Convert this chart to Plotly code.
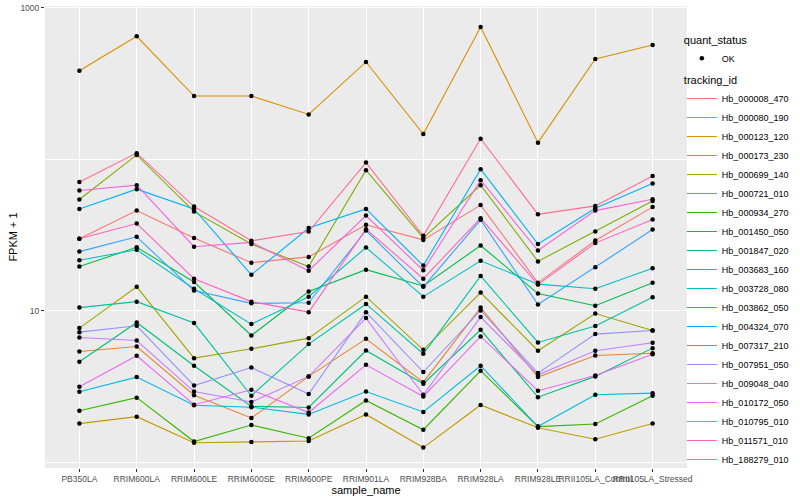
import plotly.graph_objects as go

samples = ["PB350LA", "RRIM600LA", "RRIM600LE", "RRIM600SE", "RRIM600PE", "RRIM901LA",
           "RRIM928BA", "RRIM928LA", "RRIM928LE", "RRII105LA_Control", "RRII105LA_Stressed"]

tracking_ids = ["Hb_000008_470", "Hb_000080_190", "Hb_000123_120", "Hb_000173_230",
                "Hb_000699_140", "Hb_000721_010", "Hb_000934_270", "Hb_001450_050",
                "Hb_001847_020", "Hb_003683_160", "Hb_003728_080", "Hb_003862_050",
                "Hb_004324_070", "Hb_007317_210", "Hb_007951_050", "Hb_009048_040",
                "Hb_010172_050", "Hb_010795_010", "Hb_011571_010", "Hb_188279_010"]

# FPKM + 1 values, one list per tracking_id (same order as samples)
Hb_000008_470 = [29.9, 45.9, 30.3, 20.8, 22.7, 37.0, 29.4, 49.9, 15.3, 29.1, 48.4]
Hb_000080_190 = [5.39, 5.81, 2.77, 1.96, 3.69, 6.53, 3.38, 10.5, 3.65, 5.07, 5.24]
Hb_000123_120 = [385, 650, 262, 262, 198, 440, 147, 750, 129, 460, 570]
Hb_000173_230 = [1.80, 2.00, 1.345, 1.36, 1.38, 2.07, 1.25, 2.39, 1.69, 1.42, 1.80]
Hb_000699_140 = [7.69, 14.4, 4.87, 5.61, 6.60, 12.4, 5.53, 13.2, 5.45, 9.60, 7.41]
Hb_000721_010 = [54.3, 107, 45.2, 27.6, 19.6, 84.9, 30.3, 67.6, 21.2, 33.4, 53.2]
Hb_000934_270 = [2.19, 2.67, 1.37, 1.76, 1.44, 2.56, 1.64, 4.02, 1.72, 1.79, 2.75]
Hb_001450_050 = [19.6, 26.3, 15.5, 6.87, 13.4, 18.7, 14.6, 27.0, 13.0, 10.8, 15.3]
Hb_001847_020 = [4.61, 8.37, 4.34, 2.34, 2.30, 5.47, 3.30, 7.49, 2.69, 3.69, 5.67]
Hb_003683_160 = [10.5, 11.5, 8.30, 2.75, 6.03, 11.1, 5.20, 17.0, 6.18, 7.93, 12.3]
Hb_003728_080 = [21.6, 25.3, 14.0, 8.17, 12.4, 26.2, 12.4, 21.4, 15.0, 14.0, 19.1]
Hb_003862_050 = [2.92, 3.65, 2.38, 2.31, 2.07, 2.93, 2.15, 4.34, 1.72, 2.79, 2.86]
Hb_004324_070 = [47.1, 63.6, 47.1, 17.3, 35.2, 47.1, 19.9, 86.2, 27.6, 47.6, 69.2]
Hb_007317_210 = [24.6, 30.8, 13.6, 11.2, 11.3, 33.9, 14.4, 39.9, 11.0, 19.4, 34.4]
Hb_007951_050 = [7.23, 7.96, 3.21, 4.22, 2.82, 9.80, 3.94, 10.05, 3.88, 7.02, 7.41]
Hb_009048_040 = [6.67, 6.37, 2.93, 2.50, 3.69, 8.95, 2.79, 9.09, 3.78, 5.45, 6.15]
Hb_010172_050 = [3.15, 5.05, 2.40, 3.01, 2.13, 4.40, 2.72, 6.77, 2.97, 3.74, 5.16]
Hb_010795_010 = [62.3, 67.6, 26.5, 28.3, 18.4, 42.6, 18.5, 72.9, 25.0, 45.9, 54.6]
Hb_011571_010 = [29.9, 37.7, 16.3, 11.5, 9.80, 34.6, 16.3, 40.9, 14.9, 28.0, 40.1]
Hb_188279_010 = [71.0, 110, 48.8, 29.0, 33.4, 95.3, 31.3, 137, 43.4, 49.3, 77.8]

series_values = [Hb_000008_470, Hb_000080_190, Hb_000123_120, Hb_000173_230,
                 Hb_000699_140, Hb_000721_010, Hb_000934_270, Hb_001450_050,
                 Hb_001847_020, Hb_003683_160, Hb_003728_080, Hb_003862_050,
                 Hb_004324_070, Hb_007317_210, Hb_007951_050, Hb_009048_040,
                 Hb_010172_050, Hb_010795_010, Hb_011571_010, Hb_188279_010]

colors = ["#F8766D", "#EA8331", "#D89000", "#C09B00", "#A3A500", "#7CAE00", "#39B600",
          "#00BB4E", "#00BF7D", "#00C1A3", "#00BFC4", "#00BAE0", "#00B0F6", "#35A2FF",
          "#9590FF", "#C77CFF", "#E76BF3", "#FA62DB", "#FF62BC", "#FF6C91"]

FONT = "Liberation Sans, Arial, sans-serif"

fig = go.Figure()
for name, vals, col in zip(tracking_ids, series_values, colors):
    fig.add_trace(go.Scatter(
        x=samples, y=vals, mode="lines", name=name,
        line=dict(color=col, width=1.1),
        legend="legend", hoverinfo="x+y+name"))

all_x, all_y = [], []
for vals in series_values:
    all_x += samples
    all_y += vals
fig.add_trace(go.Scatter(
    x=all_x, y=all_y, mode="markers", name="OK",
    marker=dict(color="black", size=4.5),
    legend="legend2"))

fig.update_layout(
    width=800, height=500,
    margin=dict(l=45, r=113, t=6, b=32, autoexpand=False),
    paper_bgcolor="white", plot_bgcolor="#EBEBEB",
    font=dict(family=FONT, size=9, color="#4D4D4D"),
    showlegend=True,
    legend=dict(
        title=dict(text="tracking_id", font=dict(size=11, color="black")),
        x=0.992, xanchor="left", y=0.862, yanchor="top",
        font=dict(size=9, color="black"), bgcolor="rgba(255,255,255,0)",
        itemwidth=30, tracegroupgap=0),
    legend2=dict(
        title=dict(text="quant_status", font=dict(size=11, color="black")),
        x=0.992, xanchor="left", y=0.949, yanchor="top",
        font=dict(size=9, color="black"), bgcolor="rgba(255,255,255,0)",
        itemwidth=30),
    xaxis=dict(
        type="category", categoryorder="array", categoryarray=samples,
        range=[-0.6, 10.6], showgrid=True, gridcolor="white", gridwidth=1.1,
        zeroline=False, showline=False,
        ticks="outside", ticklen=3, tickcolor="#333333", tickwidth=1,
        tickfont=dict(size=8.5, color="#4D4D4D"), tickangle=0,
        title=dict(text="sample_name", font=dict(size=11, color="black"), standoff=2),
        automargin=False),
    yaxis=dict(
        type="log", range=[-0.038, 3.013],
        tickmode="array", tickvals=[10, 1000], ticktext=["10", "1000"],
        showgrid=True, gridcolor="white", gridwidth=1.1,
        minor=dict(tickmode="array", tickvals=[1, 100], showgrid=True,
                   gridcolor="white", gridwidth=0.55, ticks=""),
        zeroline=False, showline=False,
        ticks="outside", ticklen=3, tickcolor="#333333", tickwidth=1,
        tickfont=dict(size=8.5, color="#4D4D4D"),
        title=dict(text="FPKM + 1", font=dict(size=11, color="black"), standoff=0),
        automargin=False),
)

fig.write_html("out.html",
               config={"displayModeBar": False},
               post_script="document.body.style.margin='0';document.body.style.overflow='hidden';")
